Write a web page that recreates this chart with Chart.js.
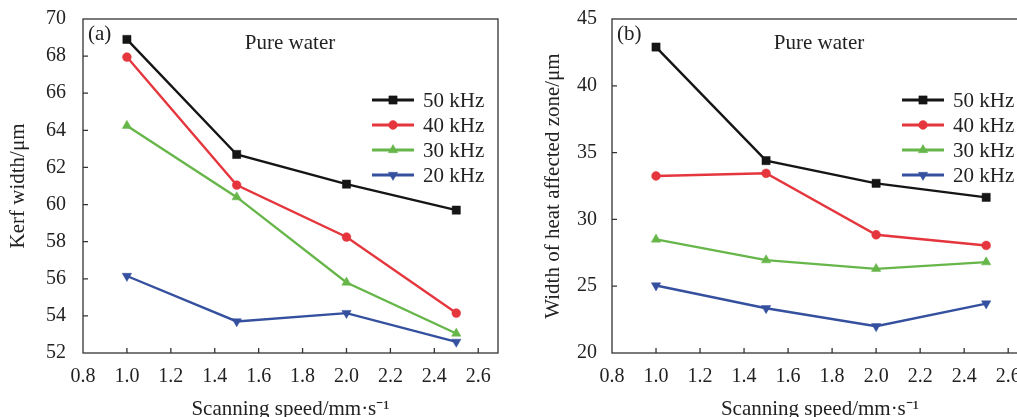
<!DOCTYPE html>
<html>
<head>
<meta charset="utf-8">
<script src="https://cdn.jsdelivr.net/npm/chart.js@4.4.0/dist/chart.umd.min.js"></script>
<style>
  html, body { margin: 0; padding: 0; background: #fff; width: 1017px; height: 417px; overflow: hidden; position: relative; }
  canvas { position: absolute; top: 0; }
  #ca { left: 0; }
  #cb { left: 535px; }
</style>
</head>
<body>
<canvas id="ca" width="508" height="422"></canvas>
<canvas id="cb" width="500" height="422"></canvas>
<script>
// ---- data ----
const speeds = [1.0, 1.5, 2.0, 2.5];
const seriesLabels = ['50 kHz', '40 kHz', '30 kHz', '20 kHz'];
const kerf50 = [68.9, 62.7, 61.1, 59.7];
const kerf40 = [67.95, 61.05, 58.25, 54.15];
const kerf30 = [64.25, 60.4, 55.8, 53.05];
const kerf20 = [56.15, 53.7, 54.15, 52.6];
const haz50 = [42.9, 34.4, 32.7, 31.65];
const haz40 = [33.25, 33.45, 28.85, 28.05];
const haz30 = [28.5, 26.95, 26.3, 26.8];
const haz20 = [25.05, 23.35, 22.0, 23.7];
const xTicks = [0.8, 1.0, 1.2, 1.4, 1.6, 1.8, 2.0, 2.2, 2.4, 2.6];
const yTicksA = [52, 54, 56, 58, 60, 62, 64, 66, 68, 70];
const yTicksB = [20, 25, 30, 35, 40, 45];

// ---- styles ----
const FONT = "'Liberation Serif', 'Times New Roman', serif";
const TXT = '#222';
const AX = '#333';
const colors = ['#151515', '#e4363c', '#66b64a', '#34509e'];
const styles = [
  { pointStyle: 'rect', radius: 5.8, rotation: 0 },
  { pointStyle: 'circle', radius: 4.4, rotation: 0 },
  { pointStyle: 'triangle', radius: 5.4, rotation: 0 },
  { pointStyle: 'triangle', radius: 5.4, rotation: 180 }
];

function makeDatasets(arrs) {
  return arrs.map((arr, i) => ({
    label: seriesLabels[i],
    data: speeds.map((x, j) => ({ x: x, y: arr[j] })),
    borderColor: colors[i],
    backgroundColor: colors[i],
    borderWidth: 2.4,
    pointStyle: styles[i].pointStyle,
    pointRadius: styles[i].radius,
    pointRotation: styles[i].rotation,
    pointBorderWidth: 0.5,
    pointHoverRadius: styles[i].radius,
    tension: 0
  }));
}

const decorPlugin = {
  id: 'decor',
  afterDraw(chart, args, opts) {
    const ctx = chart.ctx;
    const a = chart.chartArea;
    const xs = chart.scales.x, ys = chart.scales.y;
    ctx.save();
    ctx.strokeStyle = AX;
    ctx.lineWidth = 1.3;
    ctx.strokeRect(a.left, a.top, a.right - a.left, a.bottom - a.top);
    ctx.beginPath();
    xs.ticks.forEach(t => {
      const px = xs.getPixelForValue(t.value);
      if (px > a.left + 1 && px < a.right - 1) { ctx.moveTo(px, a.bottom); ctx.lineTo(px, a.bottom - 5); }
    });
    ys.ticks.forEach(t => {
      const py = ys.getPixelForValue(t.value);
      if (py > a.top + 1 && py < a.bottom - 1) { ctx.moveTo(a.left, py); ctx.lineTo(a.left + 5, py); }
    });
    ctx.stroke();
    ctx.fillStyle = TXT;
    ctx.font = '21px ' + FONT;
    ctx.textBaseline = 'middle';
    ctx.textAlign = 'left';
    ctx.fillText(opts.panel, a.left + 5, a.top + 15);
    ctx.textAlign = 'center';
    ctx.fillText('Pure water', a.left + 207, a.top + 24);
    chart.data.datasets.forEach((ds, i) => {
      const y = a.top + 81 + i * 25;
      const x0 = a.right - 126, x1 = x0 + 42;
      ctx.strokeStyle = ds.borderColor;
      ctx.lineWidth = 3;
      ctx.beginPath(); ctx.moveTo(x0, y); ctx.lineTo(x1, y); ctx.stroke();
      ctx.fillStyle = ds.backgroundColor;
      ctx.strokeStyle = ds.borderColor;
      ctx.lineWidth = 0.5;
      Chart.helpers.drawPoint(ctx, { pointStyle: ds.pointStyle, radius: ds.pointRadius, rotation: ds.pointRotation, borderWidth: 0.5 }, (x0 + x1) / 2, y);
      ctx.fillStyle = TXT;
      ctx.textAlign = 'left';
      ctx.font = '21px ' + FONT;
      ctx.fillText(ds.label, x0 + 51, y + 1);
    });
    ctx.restore();
  }
};

function makeChart(id, arrs, yTicks, yTitle, panel, yWidth, padRight, tickGap) {
  return new Chart(document.getElementById(id), {
    type: 'line',
    data: { datasets: makeDatasets(arrs) },
    plugins: [decorPlugin],
    options: {
      responsive: false,
      animation: false,
      devicePixelRatio: 1,
      layout: { padding: { left: 6, top: 19, right: padRight, bottom: 0 } },
      plugins: {
        legend: { display: false },
        tooltip: { enabled: false },
        decor: { panel: panel }
      },
      scales: {
        x: {
          type: 'linear',
          min: 0.8,
          max: 2.69,
          afterBuildTicks: s => { s.ticks = xTicks.map(v => ({ value: v })); },
          afterFit: s => { s.height = 69; },
          grid: { display: true, drawOnChartArea: false, drawTicks: true, tickLength: 12, tickColor: 'rgba(0,0,0,0)' },
          border: { display: false },
          ticks: {
            color: TXT, font: { family: FONT, size: 20 }, padding: 0, maxRotation: 0,
            autoSkip: false,
            callback: v => Number(v).toFixed(1)
          },
          title: { display: true, text: 'Scanning speed/mm·s⁻¹', color: TXT, font: { family: FONT, size: 21 }, padding: 0 }
        },
        y: {
          type: 'linear',
          min: yTicks[0],
          max: yTicks[yTicks.length - 1],
          afterBuildTicks: s => { s.ticks = yTicks.map(v => ({ value: v })); },
          afterFit: s => { s.width = yWidth; },
          grid: { display: true, drawOnChartArea: false, drawTicks: true, tickLength: tickGap, tickColor: 'rgba(0,0,0,0)' },
          border: { display: false },
          ticks: { color: TXT, font: { family: FONT, size: 20 }, padding: 0, autoSkip: false },
          title: { display: true, text: yTitle, color: TXT, font: { family: FONT, size: 21 }, padding: 0 }
        }
      }
    }
  });
}

makeChart('ca', [kerf50, kerf40, kerf30, kerf20], yTicksA, 'Kerf width/μm', '(a)', 77, 10, 17);
makeChart('cb', [haz50, haz40, haz30, haz20], yTicksB, 'Width of heat affected zone/μm', '(b)', 71, 7, 15);
</script>
</body>
</html>
